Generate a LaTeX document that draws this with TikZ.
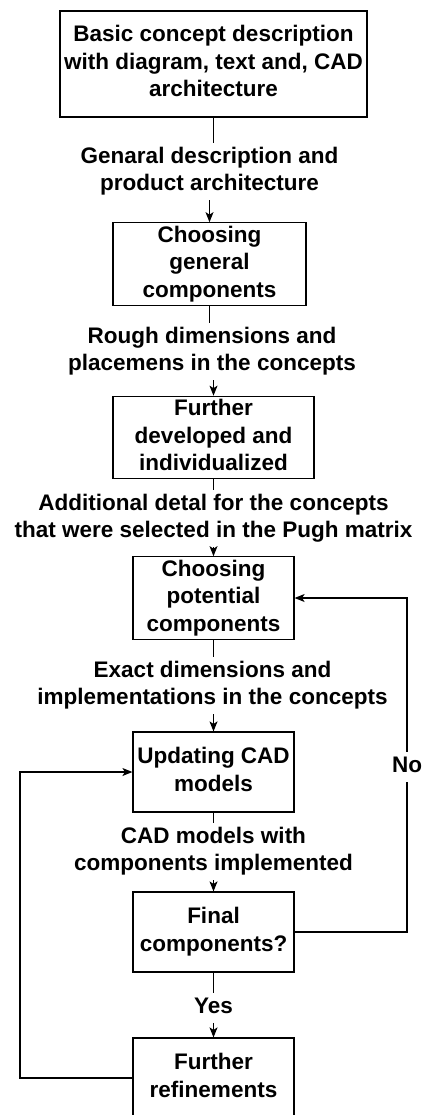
\documentclass[tikz,border=0pt]{standalone}
\usepackage{fontspec}
\setmainfont{Liberation Sans}
\usetikzlibrary{arrows.meta}
\begin{document}
\begin{tikzpicture}[x=1pt,y=-1pt,
  every node/.style={font=\fontsize{22.5}{27.5}\selectfont\bfseries, align=center, inner sep=0pt},
  stepbox/.style={draw, line width=1.2pt, minimum width=161pt, minimum height=80pt},
  lab/.style={fill=white, inner ysep=1pt, inner xsep=1pt, anchor=north},
  link/.style={line width=1.2pt},
  arr/.style={link, -{Stealth[length=10pt,width=8pt,inset=2.5pt]}}]
\useasboundingbox (0,0) rectangle (421,1115);

% process steps
\node[stepbox, minimum width=307pt, minimum height=106pt] (b1) at (213.5,64)
  {\strut Basic concept description\\\strut with diagram, text and, CAD\\\strut architecture};
\node[stepbox, minimum width=193pt] (b2) at (209.5,264)
  {\strut Choosing\\\strut general\\\strut components};
\node[stepbox, minimum width=201pt, minimum height=81pt] (b3) at (213.5,437.5)
  {\strut Further\\\strut developed and\\\strut individualized};
\node[stepbox, minimum height=82pt] (b4) at (213.5,598)
  {\strut Choosing\\\strut potential\\\strut components};
\node[stepbox] (b5) at (213.5,772)
  {\strut Updating CAD\\\strut models};
\node[stepbox] (b6) at (213.5,932)
  {\strut Final\\\strut components?};
\node[stepbox] (b7) at (213.5,1078)
  {\strut Further\\\strut refinements};

% edge labels
\node[lab] (l1) at (209.5,143) {\strut Genaral description and\\\strut product architecture};
\node[lab] (l2) at (212,323) {\strut Rough dimensions and\\\strut placemens in the concepts};
\node[lab] (l3) at (213.5,490) {\strut Additional detal for the concepts\\\strut that were selected in the Pugh matrix};
\node[lab] (l4) at (212.5,657) {\strut Exact dimensions and\\\strut implementations in the concepts};
\node[lab] (l5) at (213.5,823) {\strut CAD models with\\\strut components implemented};
\node[lab] (l6) at (213.5,993) {\strut Yes};

% main flow
\draw[link] (b1.south) -- (l1.north -| b1.south);
\draw[arr] (l1.south -| b2.north) -- (b2.north);
\draw[link] (b2.south) -- (l2.north -| b2.south);
\draw[arr] (l2.south -| b3.north) -- (b3.north);
\draw[link] (b3.south) -- (l3.north -| b3.south);
\draw[arr] (l3.south -| b4.north) -- (b4.north);
\draw[link] (b4.south) -- (l4.north -| b4.south);
\draw[arr] (l4.south -| b5.north) -- (b5.north);
\draw[link] (b5.south) -- (l5.north -| b5.south);
\draw[arr] (l5.south -| b6.north) -- (b6.north);
\draw[link] (b6.south) -- (l6.north -| b6.south);
\draw[arr] (l6.south -| b7.north) -- (b7.north);

% loop back when components are not final
\coordinate (rx) at (407,0);
\draw[arr] (b6.east) -- (b6.east -| rx) -- (b4.east -| rx) -- (b4.east);
\node[fill=white, inner ysep=1pt, inner xsep=1pt] (no) at (407,767) {\strut No};

% refinement loop
\coordinate (lx) at (20,0);
\draw[arr] (b7.west) -- (b7.west -| lx) -- (b5.west -| lx) -- (b5.west);
\end{tikzpicture}
\end{document}
